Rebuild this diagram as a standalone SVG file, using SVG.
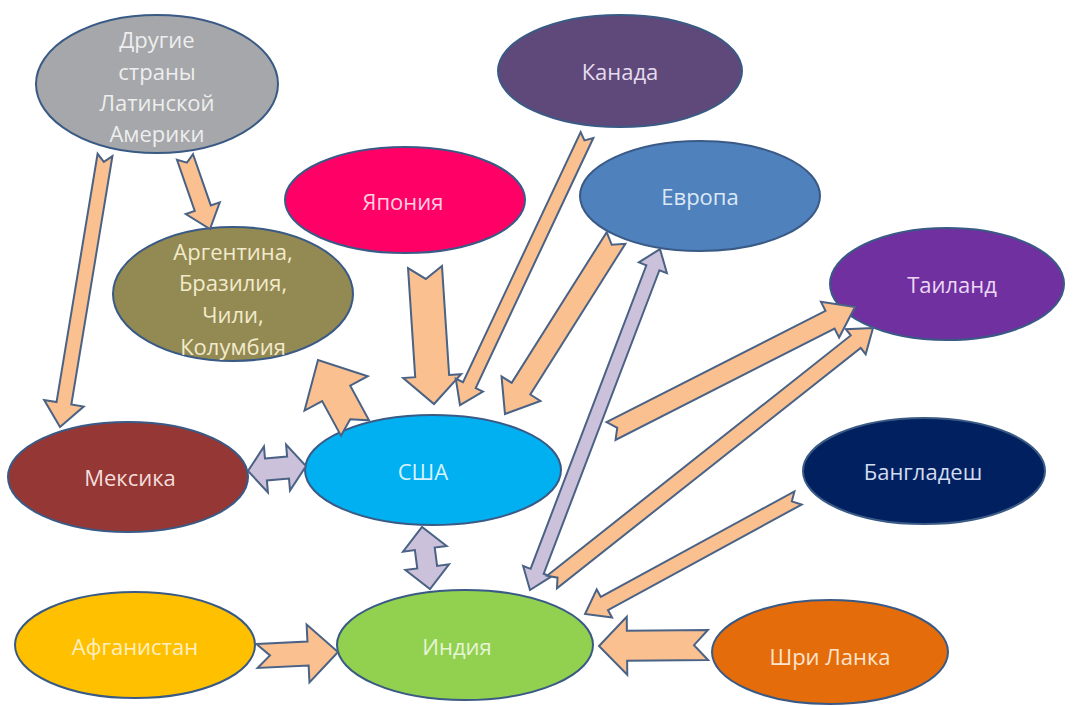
<svg xmlns="http://www.w3.org/2000/svg" width="1078" height="706" viewBox="0 0 1078 706">
<style>
.n{stroke:#3A5A86;stroke-width:2}
.t{font-family:"Open Sans","Noto Sans","DejaVu Sans",sans-serif;font-size:22px;text-anchor:middle}
.o{fill:#FAC090;stroke:#4A6285;stroke-width:2;stroke-linejoin:miter}
.l{fill:#CCC1DA;stroke:#4A6285;stroke-width:2;stroke-linejoin:miter}
</style>
<rect width="1078" height="706" fill="#FFFFFF"/>
<g id="nodes">
<g id="latam"><ellipse class="n" cx="157" cy="84" rx="121" ry="69" fill="#A5A7AA"/>
<text class="t" fill="#EEEEEE" x="157" y="48">Другие</text>
<text class="t" fill="#EEEEEE" x="157" y="80">страны</text>
<text class="t" fill="#EEEEEE" x="157" y="111">Латинской</text>
<text class="t" fill="#EEEEEE" x="157" y="142">Америки</text></g>
<g id="argentina"><ellipse class="n" cx="233" cy="294" rx="120" ry="67" fill="#938953"/>
<text class="t" fill="#F2EBCB" x="233" y="260">Аргентина,</text>
<text class="t" fill="#F2EBCB" x="233" y="291">Бразилия,</text>
<text class="t" fill="#F2EBCB" x="233" y="323">Чили,</text>
<text class="t" fill="#F2EBCB" x="233" y="355">Колумбия</text></g>
<g id="japan"><ellipse class="n" cx="405" cy="200" rx="120" ry="53" fill="#FF0066"/>
<text class="t" fill="#FFD0E0" x="403" y="210">Япония</text></g>
<g id="canada"><ellipse class="n" cx="620" cy="71" rx="122" ry="56" fill="#5F497A"/>
<text class="t" fill="#E6DCF0" x="620" y="80">Канада</text></g>
<g id="europe"><ellipse class="n" cx="700" cy="196" rx="120" ry="55" fill="#4F81BD"/>
<text class="t" fill="#DCE8F6" x="700" y="205">Европа</text></g>
<g id="thailand"><ellipse class="n" cx="947" cy="284" rx="117" ry="56" fill="#7030A0"/>
<text class="t" fill="#EBD8F6" x="952" y="293">Таиланд</text></g>
<g id="mexico"><ellipse class="n" cx="128" cy="477" rx="120" ry="55" fill="#953735"/>
<text class="t" fill="#F4DEDC" x="130" y="486">Мексика</text></g>
<g id="usa"><ellipse class="n" cx="433" cy="470" rx="128" ry="55" fill="#00B0F0"/>
<text class="t" fill="#D6F2FF" x="423" y="480">США</text></g>
<g id="bangladesh"><ellipse class="n" cx="924" cy="471" rx="121" ry="53" fill="#002060"/>
<text class="t" fill="#D2DCF0" x="923" y="480">Бангладеш</text></g>
<g id="afghanistan"><ellipse class="n" cx="135" cy="645" rx="120" ry="53" fill="#FFC000"/>
<text class="t" fill="#FFEFC0" x="135" y="655">Афганистан</text></g>
<g id="india"><ellipse class="n" cx="465" cy="645" rx="128" ry="55" fill="#92D050"/>
<text class="t" fill="#E6F5D6" x="457" y="655">Индия</text></g>
<g id="srilanka"><ellipse class="n" cx="830" cy="652" rx="118" ry="52" fill="#E46C0A"/>
<text class="t" fill="#FCE4CF" x="830" y="665">Шри Ланка</text></g>
</g>
<g id="connectors">
<polygon class="o" transform="translate(105,155) rotate(99.39)" points="0,-7.5 251.7,-7.5 251.7,-20 275.7,0 251.7,20 251.7,7.5 0,7.5 7,0"/>
<polygon class="o" transform="translate(185,157) rotate(70.85)" points="0,-8.5 54.2,-8.5 54.2,-18 76.2,0 54.2,18 54.2,8.5 0,8.5 6,0"/>
<polygon class="o" transform="translate(425,267) rotate(86.24)" points="0,-17 109.3,-17 109.3,-29 137.3,0 109.3,29 109.3,17 0,17 12,0"/>
<polygon class="o" transform="translate(587,135) rotate(115.19)" points="0,-7 276.4,-7 276.4,-15 298.4,0 276.4,15 276.4,7 0,7 6,0"/>
<polygon class="o" transform="translate(616,238) rotate(122.24)" points="0,-11 178.1,-11 178.1,-23 208.1,0 178.1,23 178.1,11 0,11 8,0"/>
<polygon class="o" transform="translate(355,428) rotate(-118.55)" points="0,-16 39.4,-16 39.4,-36 77.4,0 39.4,36 39.4,16 0,16 10,0"/>
<polygon class="l" transform="translate(248,471) rotate(-4.93)" points="18,-11 40.2,-11 40.2,-23 58.2,0 40.2,23 40.2,11 18,11 18,23 0,0 18,-23"/>
<polygon class="l" transform="translate(422,527) rotate(82.65)" points="22,-10 40.5,-10 40.5,-22 62.5,0 40.5,22 40.5,10 22,10 22,22 0,0 22,-22"/>
<polygon class="l" transform="translate(530,590) rotate(-69.13)" points="20,-7 344.9,-7 344.9,-15 364.9,0 344.9,15 344.9,7 20,7 20,15 0,0 20,-15"/>
<polygon class="o" transform="translate(552,582) rotate(-38.35)" points="0,-8 387.3,-8 387.3,-16 409.3,0 387.3,16 387.3,8 0,8 7,0"/>
<polygon class="o" transform="translate(611,431) rotate(-26.94)" points="0,-10 245.7,-10 245.7,-20 273.7,0 245.7,20 245.7,10 0,10 7,0"/>
<polygon class="o" transform="translate(798,498) rotate(151.42)" points="0,-7.5 220.5,-7.5 220.5,-16 242.5,0 220.5,16 220.5,7.5 0,7.5 7,0"/>
<polygon class="o" transform="translate(708,645) rotate(179.5)" points="0,-15 81,-15 81,-29 109,0 81,29 81,15 0,15 14,0"/>
<polygon class="o" transform="translate(257,656) rotate(-2.83)" points="0,-12 51.1,-12 51.1,-29 81.1,0 51.1,29 51.1,12 0,12 13,0"/>
</g>
</svg>
